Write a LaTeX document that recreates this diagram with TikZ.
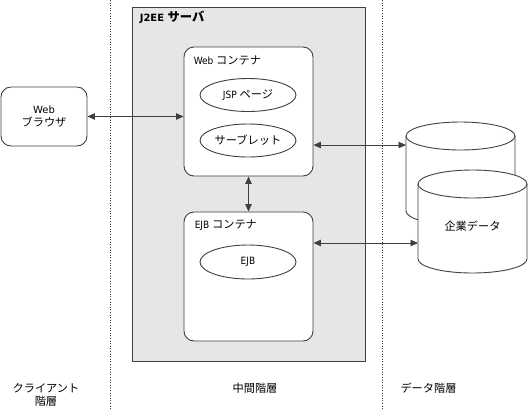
\documentclass[tikz,border=0pt]{standalone}
\usepackage{fontspec}
\setmainfont{DejaVu Sans Condensed}
\newfontfamily\jp[Scale=1.12]{Noto Sans CJK JP}
\newfontfamily\wide{DejaVu Sans}
\usetikzlibrary{arrows.meta,shapes.geometric}
\definecolor{boxline}{HTML}{404040}
\definecolor{srvfill}{HTML}{E6E6E6}
\begin{document}
\begin{tikzpicture}[x=1pt,y=-1pt,
  font=\fontsize{10}{13}\selectfont,
  line width=0.9pt,
  container/.style={draw=boxline,fill=white,rounded corners=10pt,minimum width=129pt,minimum height=129pt},
  comp/.style={draw=boxline,fill=white,ellipse,minimum width=96pt,minimum height=33pt,inner sep=0pt},
  link/.style={draw=boxline,{Triangle[length=7.5pt,width=6.5pt]}-{Triangle[length=7.5pt,width=6.5pt]}},
  tier/.style={dotted,line width=0.6pt,draw=black!80}]
\useasboundingbox (0,0) rectangle (528,410);
% tier borders
\draw[tier] (110,0) -- (110,410);
\draw[tier] (382,0) -- (382,410);
% client
\node[draw=boxline,fill=white,rounded corners=10pt,minimum width=86pt,minimum height=59pt,align=center] (browser) at (44,116.5) {{\wide Web}\\{\jp ブラウザ}};
% J2EE server
\node[draw=boxline,fill=srvfill,minimum width=233pt,minimum height=354pt,inner sep=0pt] (server) at (248.5,184) {};
\node[anchor=west,font=\wide\fontsize{10}{13}\selectfont\bfseries] at (136,17.5) {J2EE {\jp\fontsize{11}{13}\selectfont サーバ}};
\node[container] (webc) at (248.5,111.5) {};
\node[anchor=west] at (190,60) {Web {\jp コンテナ}};
\node[comp] (jsp) at (248,95) {JSP {\jp ページ}};
\node[comp] (servlet) at (248,140.5) {\jp サーブレット};
\node[container] (ejbc) at (248.5,276.5) {};
\node[anchor=west] at (191,225) {EJB {\jp コンテナ}};
\node[comp,minimum height=34pt] (ejb) at (248,262) {EJB};
% data
\filldraw[draw=boxline,fill=white] (406,136) -- (406,211) arc[start angle=180,end angle=360,x radius=54.5pt,y radius=14pt] -- (515,136) arc[start angle=0,end angle=180,x radius=54.5pt,y radius=14pt] -- cycle;
\draw[boxline] (406,136) arc[start angle=180,end angle=360,x radius=54.5pt,y radius=14pt];
\filldraw[draw=boxline,fill=white] (418,184) -- (418,259) arc[start angle=180,end angle=360,x radius=54.5pt,y radius=14pt] -- (527,184) arc[start angle=0,end angle=180,x radius=54.5pt,y radius=14pt] -- cycle;
\draw[boxline] (418,184) arc[start angle=180,end angle=360,x radius=54.5pt,y radius=14pt];
\node (db) at (472.5,226) {\jp 企業データ};
\coordinate (db1in) at (406,145);
\coordinate (db2in) at (418,243);
% connectors
\draw[link] (browser.east) -- (browser.east -| webc.west);
\draw[link] (webc.south) -- (ejbc.north);
\draw[link] (db1in -| webc.east) -- (db1in);
\draw[link] (db2in -| ejbc.east) -- (db2in);
% tier names
\node[align=center,font=\jp\fontsize{10}{13}\selectfont] (client) at (46,394.5) {クライアント\\階層};
\node[font=\jp\fontsize{10}{13}\selectfont] (middle) at (255,388) {中間階層};
\node[font=\jp\fontsize{10}{13}\selectfont] (data) at (428.5,388) {データ階層};
\end{tikzpicture}
\end{document}
